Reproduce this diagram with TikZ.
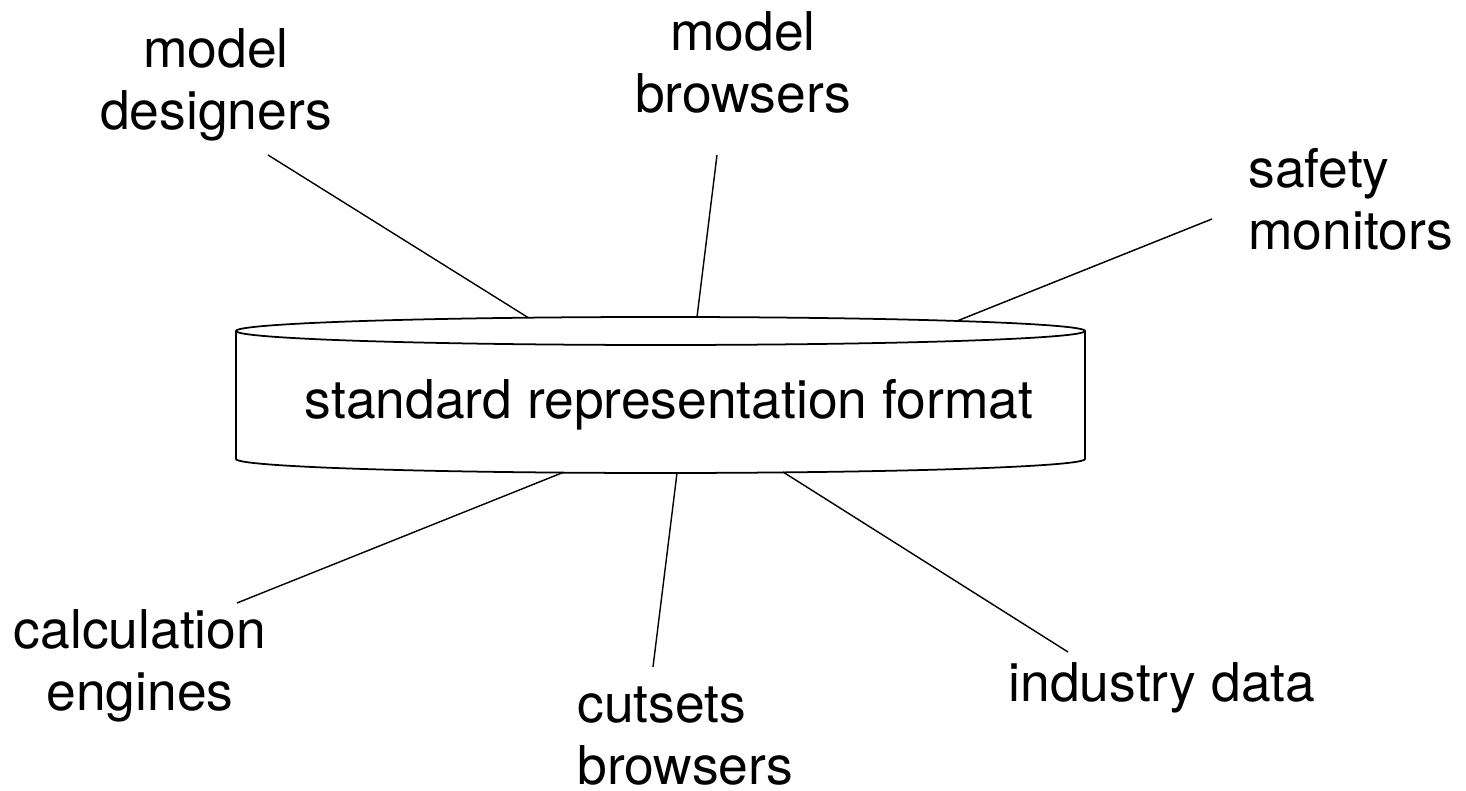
\documentclass[tikz,border=0pt]{standalone}
\usepackage{fontspec}
\setmainfont{TeX Gyre Heros}
\usepackage{tikz}
\usetikzlibrary{positioning}
\tikzset{lbl/.style = {font = \fontsize{30.4}{35.6}\selectfont, inner sep = 0, align = center, anchor = base}}
\tikzset{conn/.style = {line width = 0.8pt}}

\begin{document}
\begin{tikzpicture}
        \useasboundingbox (0, 0) rectangle (29.32, 15.82);
        % store
        \draw [line width = 1pt] (4.72, 9.20) -- (4.72, 6.64)
          arc [start angle = 180, end angle = 360, x radius = 8.49, y radius = 0.28] -- (21.70, 9.20);
        \draw [line width = 1pt] (13.21, 9.20) ellipse [x radius = 8.49, y radius = 0.28];
        \node [lbl] (srf) at (13.38, 7.44) {standard representation format};
        \coordinate (rim1) at (10.56, 9.47);
        \coordinate (rim2) at (13.94, 9.48);
        \coordinate (rim3) at (19.14, 9.40);
        \coordinate (rim4) at (11.26, 6.37);
        \coordinate (rim5) at (13.54, 6.36);
        \coordinate (rim6) at (15.66, 6.38);
        % tools (base = last line)
        \node [lbl] (designers) at (4.32, 13.22) {model\\designers};
        \node [lbl] (mbrowsers) at (14.86, 13.56) {model\\browsers};
        \node [lbl, align = left, anchor = base west] (monitors) at (24.96, 10.82) {safety\\monitors};
        \node [lbl] (engines) at (2.80, 1.60) {calculation\\engines};
        \node [lbl, align = left, anchor = base west] (cutsets) at (11.54, 0.12) {cutsets\\browsers};
        \node [lbl] (industry) at (23.24, 1.78) {industry data};
        \coordinate (designers-end) at (5.36, 12.72);
        \coordinate (mbrowsers-end) at (14.34, 12.72);
        \coordinate (monitors-end) at (24.24, 11.44);
        \coordinate (engines-end) at (4.74, 3.76);
        \coordinate (cutsets-end) at (13.06, 2.48);
        \coordinate (industry-end) at (21.36, 2.78);
        \draw [conn] (designers-end) -- (rim1);
        \draw [conn] (mbrowsers-end) -- (rim2);
        \draw [conn] (monitors-end) -- (rim3);
        \draw [conn] (engines-end) -- (rim4);
        \draw [conn] (cutsets-end) -- (rim5);
        \draw [conn] (industry-end) -- (rim6);
      \end{tikzpicture}
\end{document}
